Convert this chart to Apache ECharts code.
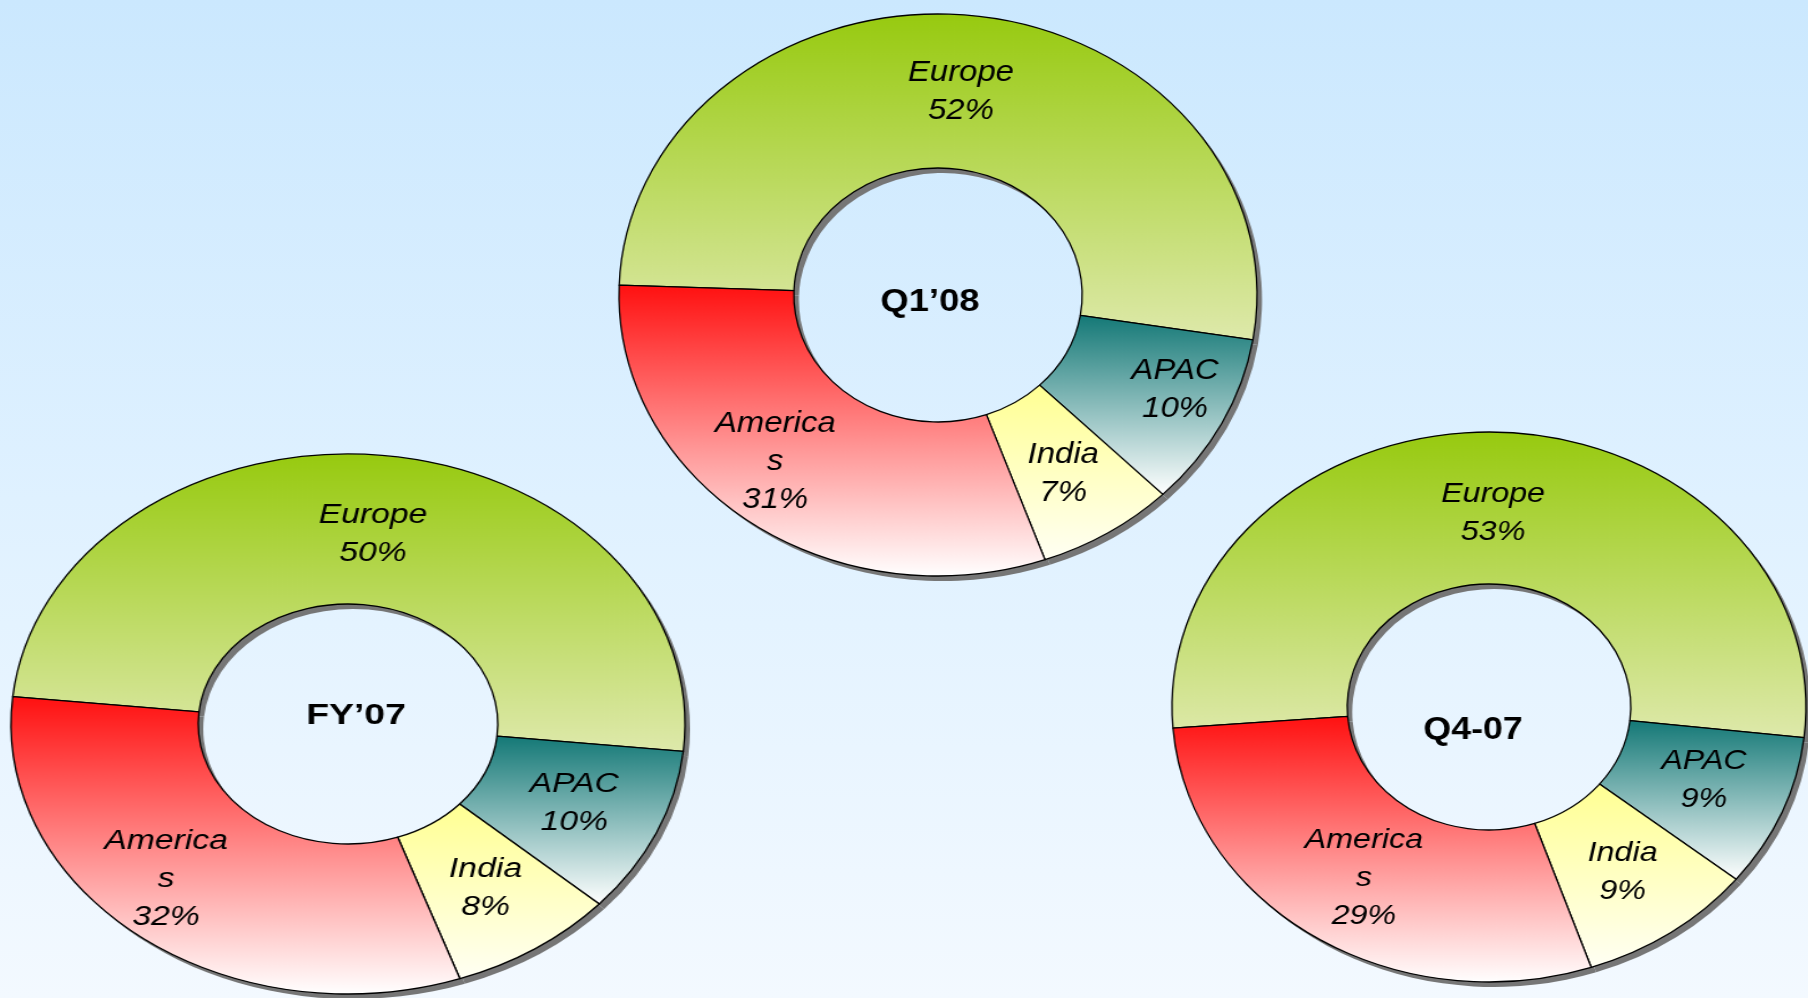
<!DOCTYPE html>
<html>
<head>
<meta charset="utf-8">
<script src="https://cdn.jsdelivr.net/npm/echarts@6/dist/echarts.min.js"></script>
<style>
html,body{margin:0;padding:0;width:1808px;height:998px;overflow:hidden;}
body{background:linear-gradient(to bottom,#cbe8fe 0%,#dff1ff 50%,#f3f9ff 100%);}
.donut{position:absolute;transform-origin:50% 50%;}
</style>
</head>
<body>
<div id="c0" class="donut"></div>
<div id="c1" class="donut"></div>
<div id="c2" class="donut"></div>
<script>
// ---- data ----
const regions = ['Europe', 'APAC', 'India', 'Americas'];
const regionLabels = ['Europe', 'APAC', 'India', 'America\ns'];
const periods = ['Q1’08', 'FY’07', 'Q4-07'];
const q108 = [52, 10, 7, 31];
const fy07 = [50, 10, 8, 32];
const q407 = [53, 9, 9, 29];
const seriesValues = [q108, fy07, q407];

// ---- layout (positions / sizes only) ----
const layouts = [
  {id: 'c0', cx: 938, cy: 295, rx: 319, ry: 281, r0: 127, start: 178,   tx: 930,  ty: 302, tfs: 32, tshadow: false,
   lfs: 29, ldx: [0, 28, 0, -24], ldy: [3, 0, 4, 0]},
  {id: 'c1', cx: 348, cy: 724, rx: 337, ry: 270, r0: 120, start: 174.2, tx: 356,  ty: 716, tfs: 30, tshadow: true,
   lfs: 27, ldx: [0, 0, 0, -29], ldy: [7, 0, 0, 0]},
  {id: 'c2', cx: 1489, cy: 707, rx: 317, ry: 275, r0: 123, start: 184.4, tx: 1473, ty: 730, tfs: 31, tshadow: false,
   lfs: 28, ldx: [0, 0, 0, 3], ldy: [8, -4, 0, 3]}
];

const grad = (c1, c2) => ({type: 'linear', x: 0, y: 0, x2: 0, y2: 1,
  colorStops: [{offset: 0, color: c1}, {offset: 1, color: c2}]});
const sliceColors = [
  grad('#97ca0f', '#dee9ab'),
  grad('#137876', '#ffffff'),
  grad('#ffff92', '#fffff4'),
  grad('#ff1010', '#ffffff')
];

layouts.forEach((L, k) => {
  const values = seriesValues[k];
  const s = L.rx / L.ry;
  const H = 2 * L.ry + 24;
  const el = document.getElementById(L.id);
  el.style.width = H + 'px';
  el.style.height = H + 'px';
  el.style.left = (L.cx - H / 2) + 'px';
  el.style.top = (L.cy - H / 2) + 'px';
  el.style.transform = 'scaleX(' + s + ')';
  const chart = echarts.init(el, null, {renderer: 'canvas'});
  const titleStyle = {
    fontFamily: 'Liberation Sans, Arial, sans-serif',
    fontWeight: 'bold',
    fontSize: L.tfs,
    color: '#000'
  };
  if (L.tshadow) {
    titleStyle.textShadowColor = '#7a7a7a';
    titleStyle.textShadowOffsetX = 3;
    titleStyle.textShadowOffsetY = 3;
    titleStyle.textShadowBlur = 0;
  }
  chart.setOption({
    backgroundColor: 'transparent',
    animation: false,
    title: {
      text: periods[k],
      left: (L.tx - L.cx) / s + H / 2,
      top: (L.ty - L.cy) + H / 2,
      textAlign: 'center',
      textVerticalAlign: 'middle',
      padding: 0,
      textStyle: titleStyle
    },
    series: [
      {
        type: 'pie',
        silent: true,
        z: 1,
        center: [H / 2 + 5 / s, H / 2 + 5],
        radius: [L.r0, L.ry],
        startAngle: L.start,
        clockwise: true,
        data: values.map(v => ({value: v})),
        itemStyle: {color: '#767676', borderWidth: 0},
        label: {show: false},
        labelLine: {show: false},
        emphasis: {disabled: true}
      },
      {
        type: 'pie',
        z: 2,
        silent: true,
        center: [H / 2, H / 2],
        radius: [L.r0, L.ry],
        startAngle: L.start,
        clockwise: true,
        avoidLabelOverlap: false,
        data: regions.map((n, i) => ({
          name: n,
          value: values[i],
          itemStyle: {color: sliceColors[i]},
          label: {offset: [L.ldx[i] / s, L.ldy[i]]}
        })),
        itemStyle: {borderColor: '#000', borderWidth: 1.3},
        label: {
          show: true,
          position: 'inside',
          formatter: p => regionLabels[p.dataIndex] + '\n' + p.value + '%',
          fontFamily: 'Liberation Sans, Arial, sans-serif',
          fontStyle: 'italic',
          fontSize: L.lfs,
          lineHeight: 38,
          color: '#000',
          textBorderWidth: 0
        },
        labelLine: {show: false},
        emphasis: {disabled: true}
      }
    ]
  });
});
</script>
</body>
</html>
